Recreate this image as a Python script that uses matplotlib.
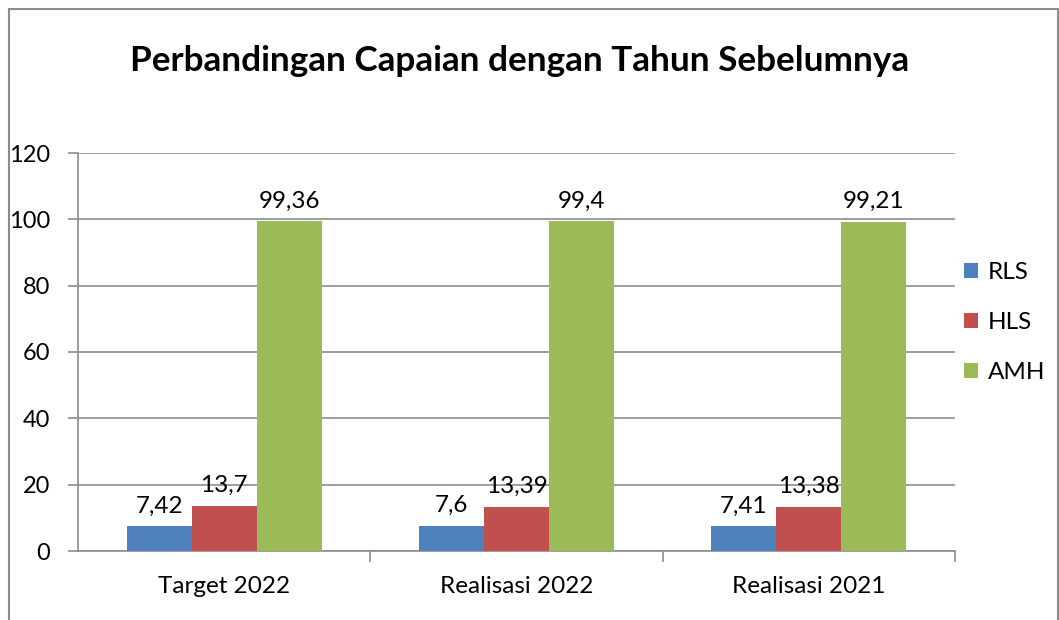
import matplotlib.pyplot as plt
import numpy as np

plt.rcParams['font.family'] = ['Lato', 'DejaVu Sans']

categories = ["Target 2022", "Realisasi 2022", "Realisasi 2021"]
series = ["RLS", "HLS", "AMH"]
rls = [7.42, 7.6, 7.41]
hls = [13.7, 13.39, 13.38]
amh = [99.36, 99.4, 99.21]
labels = {
    "RLS": ["7,42", "7,6", "7,41"],
    "HLS": ["13,7", "13,39", "13,38"],
    "AMH": ["99,36", "99,4", "99,21"],
}
colors = ["#4F81BD", "#C0504D", "#9BBB59"]

fig = plt.figure(figsize=(10.59, 6.2), dpi=100)
ax = fig.add_axes([78 / 1059, 69 / 620, 877 / 1059, 398 / 620])

x = np.arange(len(categories))
w = 1 / 4.5
grid_c = "#8c8c8c"
fs = 17.5
for i, (name, vals) in enumerate(zip(series, [rls, hls, amh])):
    pos = x + (i - 1) * w
    ax.bar(pos, vals, width=w, color=colors[i], label=name, zorder=3)
    for p, v, t in zip(pos, vals, labels[name]):
        ax.annotate(t, (p, v), xytext=(0, 7), textcoords="offset points",
                    ha="center", va="bottom", fontsize=fs)

ax.set_xlim(-0.5, 2.5)
ax.set_ylim(0, 120)
ax.set_yticks(range(0, 121, 20))
ax.yaxis.grid(True, color=grid_c, lw=1.2, zorder=0)
ax.set_xticks(x)
ax.set_xticklabels(categories, fontsize=fs)
ax.set_xticks([0.5, 1.5, 2.5], minor=True)
ax.tick_params(axis="x", which="major", length=0, pad=18)
ax.tick_params(axis="x", which="minor", length=8, color=grid_c, width=1.2)
ax.tick_params(axis="y", length=7, color=grid_c, width=1.2, labelsize=17, pad=13)
for s in ["top", "right"]:
    ax.spines[s].set_visible(False)
for s in ["left", "bottom"]:
    ax.spines[s].set_color(grid_c)
    ax.spines[s].set_linewidth(1.2)

fig.text(520 / 1059, 1 - 61 / 620, "Perbandingan Capaian dengan Tahun Sebelumnya",
         ha="center", va="center", fontsize=25.3, fontweight="bold")

fig.legend(loc="upper left", bbox_to_anchor=(942 / 1059, 1 - 240 / 620),
           frameon=False, fontsize=fs, handlelength=0.6, handleheight=0.6,
           handletextpad=0.4, labelspacing=1.2)

fig.patches.append(plt.Rectangle((9 / 1059, -0.05), 1049 / 1059, 1.05 - 9 / 620,
                                 transform=fig.transFigure, fill=False,
                                 edgecolor=grid_c, lw=1.5))

fig.savefig("out.png", dpi=100)
